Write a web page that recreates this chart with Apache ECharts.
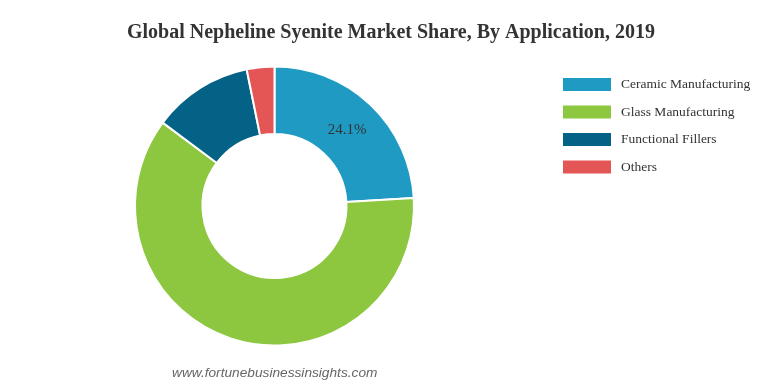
<!DOCTYPE html>
<html>
<head>
<meta charset="utf-8">
<script src="https://cdn.jsdelivr.net/npm/echarts@6/dist/echarts.min.js"></script>
<style>
html,body{margin:0;padding:0;background:#fff;}
#chart{width:778px;height:387px;}
</style>
</head>
<body>
<div id="chart"></div>
<script>
const categories = ["Ceramic Manufacturing", "Glass Manufacturing", "Functional Fillers", "Others"];
const shares = [24.1, 61.1, 11.6, 3.2];
const colors = ["#1e9ac3", "#8dc63f", "#046287", "#e45555"];
const labelShown = [true, false, false, false];

const chart = echarts.init(document.getElementById('chart'), null, {renderer: 'canvas'});
const data = categories.map((name, i) => ({
  name: name,
  value: shares[i],
  itemStyle: {color: colors[i]},
  label: {show: labelShown[i]}
}));

chart.setOption({
  animation: false,
  backgroundColor: '#ffffff',
  title: {
    text: 'Global Nepheline Syenite Market Share, By Application, 2019',
    left: 386,
    textAlign: 'center',
    top: 18,
    textStyle: {fontFamily: 'Liberation Serif', fontWeight: 'bold', fontSize: 20, color: '#333333'}
  },
  legend: {
    orient: 'vertical',
    left: 556,
    top: 71,
    itemWidth: 50,
    itemHeight: 15,
    itemGap: 10.5,
    icon: 'rect',
    textStyle: {fontFamily: 'Liberation Serif', fontSize: 13.5, color: '#333333', padding: [0, 0, 0, 4]},
    data: categories
  },
  graphic: [{
    type: 'text',
    left: 172,
    top: 366,
    style: {
      text: 'www.fortunebusinessinsights.com',
      font: 'italic 13.7px "Liberation Sans", Arial, sans-serif',
      fill: '#666666'
    }
  }],
  series: [{
    type: 'pie',
    center: [274.5, 206],
    radius: [72, 139.5],
    startAngle: 90,
    clockwise: true,
    avoidLabelOverlap: false,
    itemStyle: {borderColor: '#ffffff', borderWidth: 2},
    label: {
      position: 'inside',
      formatter: '{d}%',
      fontFamily: 'Liberation Serif',
      fontSize: 15,
      color: '#333333',
      offset: [-2, 3]
    },
    labelLine: {show: false},
    emphasis: {disabled: true},
    data: data
  }]
});
</script>
</body>
</html>
